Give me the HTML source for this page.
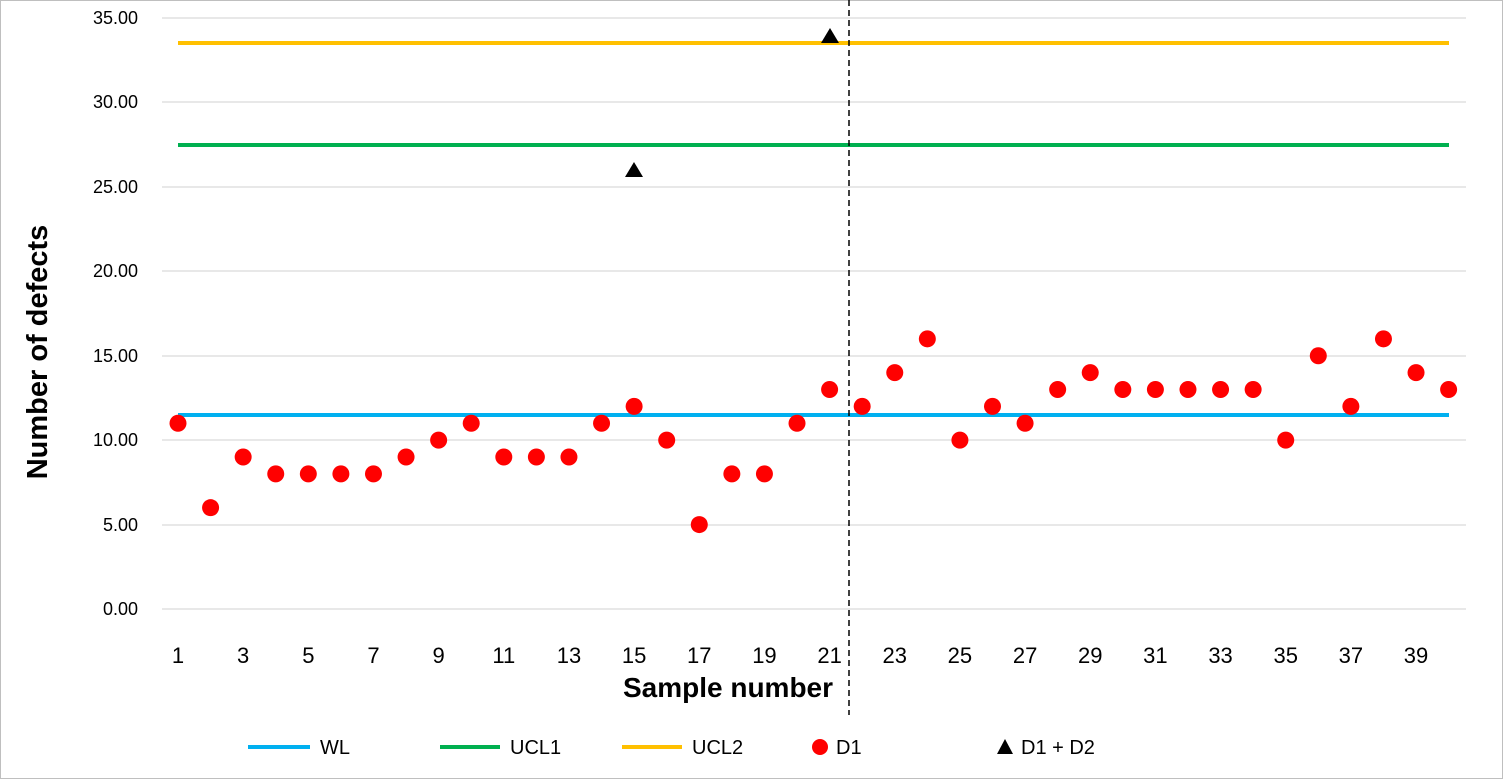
<!DOCTYPE html>
<html><head><meta charset="utf-8"><style>
html,body{margin:0;padding:0;background:#fff;}
svg{display:block;font-family:"Liberation Sans",Arial,sans-serif;}
</style></head><body>
<svg width="1503" height="779" viewBox="0 0 1503 779">
<rect x="0.5" y="0.5" width="1502" height="778" fill="#fff" stroke="#bfbfbf"/>
<g stroke="#d9d9d9" stroke-width="1.3">
<line x1="162" x2="1466" y1="609" y2="609"/>
<line x1="162" x2="1466" y1="525" y2="525"/>
<line x1="162" x2="1466" y1="440" y2="440"/>
<line x1="162" x2="1466" y1="356" y2="356"/>
<line x1="162" x2="1466" y1="271" y2="271"/>
<line x1="162" x2="1466" y1="187" y2="187"/>
<line x1="162" x2="1466" y1="102" y2="102"/>
<line x1="162" x2="1466" y1="18" y2="18"/>
</g>
<g font-size="18" fill="#000" text-anchor="end">
<text x="138" y="615">0.00</text><text x="138" y="531">5.00</text><text x="138" y="446">10.00</text>
<text x="138" y="362">15.00</text><text x="138" y="277">20.00</text><text x="138" y="193">25.00</text>
<text x="138" y="108">30.00</text><text x="138" y="24">35.00</text>
</g>
<line x1="178" x2="1449" y1="43" y2="43" stroke="#ffc000" stroke-width="4"/>
<line x1="178" x2="1449" y1="145" y2="145" stroke="#00b050" stroke-width="4"/>
<line x1="178" x2="1449" y1="415" y2="415" stroke="#00b0f0" stroke-width="4"/>
<line x1="849" x2="849" y1="0" y2="715" stroke="#000" stroke-width="1.5" stroke-dasharray="6,4"/>
<g fill="#ff0000" id="pts"></g>
<polygon points="634,162 625,177 643,177" fill="#000"/>
<polygon points="830,28 821,43 839,43" fill="#000"/>
<g font-size="22" text-anchor="middle" id="xl"></g>
<text x="728" y="697" font-size="28" font-weight="bold" text-anchor="middle">Sample number</text>
<text transform="translate(47,352) rotate(-90)" font-size="29" font-weight="bold" text-anchor="middle">Number of defects</text>
<g font-size="20">
<line x1="248" x2="310" y1="747" y2="747" stroke="#00b0f0" stroke-width="4"/><text x="320" y="754">WL</text>
<line x1="440" x2="500" y1="747" y2="747" stroke="#00b050" stroke-width="4"/><text x="510" y="754">UCL1</text>
<line x1="622" x2="682" y1="747" y2="747" stroke="#ffc000" stroke-width="4"/><text x="692" y="754">UCL2</text>
<circle cx="820" cy="747" r="8" fill="#ff0000"/><text x="836" y="754">D1</text>
<polygon points="1005,739 997,754 1013,754" fill="#000"/><text x="1021" y="754">D1 + D2</text>
</g>
<script>
var d=[11,6,9,8,8,8,8,9,10,11,9,9,9,11,12,10,5,8,8,11,13,12,14,16,10,12,11,13,14,13,13,13,13,13,10,15,12,16,14,13];
var g=document.getElementById('pts'),xl=document.getElementById('xl'),ns='http://www.w3.org/2000/svg';
d.forEach(function(v,i){var x=178+i*32.58,y=609-v*16.886;var c=document.createElementNS(ns,'circle');c.setAttribute('cx',x);c.setAttribute('cy',y);c.setAttribute('r',8.5);g.appendChild(c);
if(i%2==0){var t=document.createElementNS(ns,'text');t.setAttribute('x',x);t.setAttribute('y',663);t.textContent=i+1;xl.appendChild(t);}});
</script>
</svg>
</body></html>
